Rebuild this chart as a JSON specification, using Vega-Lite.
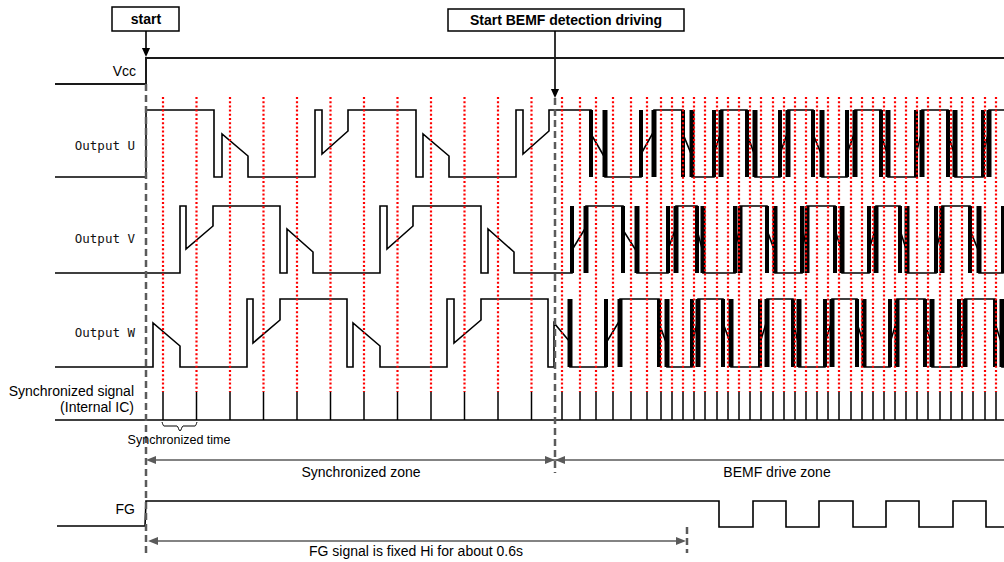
{
"$schema": "https://vega.github.io/schema/vega-lite/v6.json",
"width": 1004, "height": 562, "padding": 0, "autosize": {"type": "none"},
"background": "white",
"config": {"view": {"stroke": null}},
"datasets": {
"grid": [{"x":163},{"x":196.5},{"x":230},{"x":263.5},{"x":297},{"x":330.5},{"x":364},{"x":397.5},{"x":431},{"x":464.5},{"x":498},{"x":531.5},{"x":562},{"x":580},{"x":596},{"x":613},{"x":631},{"x":647},{"x":661},{"x":672},{"x":683},{"x":694},{"x":705},{"x":717},{"x":728},{"x":739},{"x":750},{"x":761},{"x":773},{"x":784},{"x":795},{"x":806},{"x":817},{"x":828},{"x":839},{"x":851},{"x":862},{"x":873},{"x":884},{"x":895},{"x":906},{"x":917},{"x":928},{"x":940},{"x":951},{"x":962},{"x":973},{"x":985},{"x":996}],
"levels": [{"s":"U","top":110,"bot":177},{"s":"V","top":206,"bot":273},{"s":"W","top":299,"bot":367}],
"bars": [
{"s":"U","k":"a","x":591},{"s":"U","k":"a","x":641},{"s":"U","k":"a","x":683},{"s":"U","k":"a","x":714},{"s":"U","k":"a","x":747},{"s":"U","k":"a","x":780},{"s":"U","k":"a","x":813},{"s":"U","k":"a","x":847},{"s":"U","k":"a","x":881},{"s":"U","k":"a","x":916},{"s":"U","k":"a","x":948},{"s":"U","k":"a","x":983},
{"s":"U","k":"b","x":605},{"s":"U","k":"b","x":654},{"s":"U","k":"b","x":692},{"s":"U","k":"b","x":721},{"s":"U","k":"b","x":755},{"s":"U","k":"b","x":788},{"s":"U","k":"b","x":822},{"s":"U","k":"b","x":855},{"s":"U","k":"b","x":888},{"s":"U","k":"b","x":922},{"s":"U","k":"b","x":955},{"s":"U","k":"b","x":989},
{"s":"V","k":"a","x":572},{"s":"V","k":"a","x":623},{"s":"V","k":"a","x":668},{"s":"V","k":"a","x":697},{"s":"V","k":"a","x":735},{"s":"V","k":"a","x":767},{"s":"V","k":"a","x":802},{"s":"V","k":"a","x":835},{"s":"V","k":"a","x":869},{"s":"V","k":"a","x":900},{"s":"V","k":"a","x":936},{"s":"V","k":"a","x":970},{"s":"V","k":"a","x":1003},
{"s":"V","k":"b","x":586},{"s":"V","k":"b","x":637},{"s":"V","k":"b","x":676},{"s":"V","k":"b","x":703},{"s":"V","k":"b","x":740},{"s":"V","k":"b","x":775},{"s":"V","k":"b","x":807},{"s":"V","k":"b","x":842},{"s":"V","k":"b","x":876},{"s":"V","k":"b","x":907},{"s":"V","k":"b","x":942},{"s":"V","k":"b","x":979},
{"s":"W","k":"a","x":606},{"s":"W","k":"a","x":659},{"s":"W","k":"a","x":692},{"s":"W","k":"a","x":723},{"s":"W","k":"a","x":760},{"s":"W","k":"a","x":793},{"s":"W","k":"a","x":825},{"s":"W","k":"a","x":857},{"s":"W","k":"a","x":890},{"s":"W","k":"a","x":925},{"s":"W","k":"a","x":959},{"s":"W","k":"a","x":995},
{"s":"W","k":"b","x":570},{"s":"W","k":"b","x":620},{"s":"W","k":"b","x":667},{"s":"W","k":"b","x":698},{"s":"W","k":"b","x":731},{"s":"W","k":"b","x":767},{"s":"W","k":"b","x":799},{"s":"W","k":"b","x":832},{"s":"W","k":"b","x":864},{"s":"W","k":"b","x":897},{"s":"W","k":"b","x":932},{"s":"W","k":"b","x":965},{"s":"W","k":"b","x":1002}
],
"wave": [
{"s":"U","i":1,"x":55,"y":177},{"s":"U","i":2,"x":146,"y":177},{"s":"U","i":3,"x":146,"y":110},{"s":"U","i":4,"x":214,"y":110},{"s":"U","i":5,"x":214,"y":177},{"s":"U","i":6,"x":222,"y":177},{"s":"U","i":7,"x":222,"y":134},{"s":"U","i":8,"x":248,"y":156},{"s":"U","i":9,"x":248,"y":177},{"s":"U","i":10,"x":315,"y":177},{"s":"U","i":11,"x":315,"y":110},{"s":"U","i":12,"x":322,"y":110},{"s":"U","i":13,"x":322,"y":154},{"s":"U","i":14,"x":348,"y":131},{"s":"U","i":15,"x":348,"y":110},{"s":"U","i":16,"x":416,"y":110},{"s":"U","i":17,"x":416,"y":177},{"s":"U","i":18,"x":423,"y":177},{"s":"U","i":19,"x":423,"y":134},{"s":"U","i":20,"x":449,"y":156},{"s":"U","i":21,"x":449,"y":177},{"s":"U","i":22,"x":516,"y":177},{"s":"U","i":23,"x":516,"y":110},{"s":"U","i":24,"x":523,"y":110},{"s":"U","i":25,"x":523,"y":154},{"s":"U","i":26,"x":549,"y":131},{"s":"U","i":27,"x":549,"y":110},
{"s":"U","i":28,"x":591,"y":110},{"s":"U","i":29,"x":591,"y":134},{"s":"U","i":30,"x":605,"y":158},{"s":"U","i":31,"x":605,"y":177},
{"s":"U","i":32,"x":641,"y":177},{"s":"U","i":33,"x":641,"y":154},{"s":"U","i":34,"x":654,"y":131},{"s":"U","i":35,"x":654,"y":110},
{"s":"U","i":36,"x":683,"y":110},{"s":"U","i":37,"x":683,"y":134},{"s":"U","i":38,"x":692,"y":156},{"s":"U","i":39,"x":692,"y":177},
{"s":"U","i":40,"x":714,"y":177},{"s":"U","i":41,"x":714,"y":154},{"s":"U","i":42,"x":721,"y":131},{"s":"U","i":43,"x":721,"y":110},
{"s":"U","i":44,"x":747,"y":110},{"s":"U","i":45,"x":747,"y":134},{"s":"U","i":46,"x":755,"y":156},{"s":"U","i":47,"x":755,"y":177},
{"s":"U","i":48,"x":780,"y":177},{"s":"U","i":49,"x":780,"y":154},{"s":"U","i":50,"x":788,"y":131},{"s":"U","i":51,"x":788,"y":110},
{"s":"U","i":52,"x":813,"y":110},{"s":"U","i":53,"x":813,"y":134},{"s":"U","i":54,"x":822,"y":156},{"s":"U","i":55,"x":822,"y":177},
{"s":"U","i":56,"x":847,"y":177},{"s":"U","i":57,"x":847,"y":154},{"s":"U","i":58,"x":855,"y":131},{"s":"U","i":59,"x":855,"y":110},
{"s":"U","i":60,"x":881,"y":110},{"s":"U","i":61,"x":881,"y":134},{"s":"U","i":62,"x":888,"y":156},{"s":"U","i":63,"x":888,"y":177},
{"s":"U","i":64,"x":916,"y":177},{"s":"U","i":65,"x":916,"y":154},{"s":"U","i":66,"x":922,"y":131},{"s":"U","i":67,"x":922,"y":110},
{"s":"U","i":68,"x":948,"y":110},{"s":"U","i":69,"x":948,"y":134},{"s":"U","i":70,"x":955,"y":156},{"s":"U","i":71,"x":955,"y":177},
{"s":"U","i":72,"x":983,"y":177},{"s":"U","i":73,"x":983,"y":154},{"s":"U","i":74,"x":989,"y":131},{"s":"U","i":75,"x":989,"y":110},
{"s":"U","i":76,"x":1004,"y":110},
{"s":"V","i":1,"x":55,"y":273},{"s":"V","i":2,"x":180,"y":273},{"s":"V","i":3,"x":180,"y":206},{"s":"V","i":4,"x":186,"y":206},{"s":"V","i":5,"x":186,"y":249},{"s":"V","i":6,"x":213,"y":226},{"s":"V","i":7,"x":213,"y":206},
{"s":"V","i":8,"x":280,"y":206},{"s":"V","i":9,"x":280,"y":273},{"s":"V","i":10,"x":287,"y":273},{"s":"V","i":11,"x":287,"y":229},{"s":"V","i":12,"x":313,"y":252},{"s":"V","i":13,"x":313,"y":273},
{"s":"V","i":14,"x":380,"y":273},{"s":"V","i":15,"x":380,"y":206},{"s":"V","i":16,"x":387,"y":206},{"s":"V","i":17,"x":387,"y":249},{"s":"V","i":18,"x":413,"y":226},{"s":"V","i":19,"x":413,"y":206},
{"s":"V","i":20,"x":481,"y":206},{"s":"V","i":21,"x":481,"y":273},{"s":"V","i":22,"x":488,"y":273},{"s":"V","i":23,"x":488,"y":229},{"s":"V","i":24,"x":514,"y":252},{"s":"V","i":25,"x":514,"y":273},
{"s":"V","i":26,"x":572,"y":273},{"s":"V","i":27,"x":572,"y":250},{"s":"V","i":28,"x":586,"y":227},{"s":"V","i":29,"x":586,"y":206},
{"s":"V","i":30,"x":623,"y":206},{"s":"V","i":31,"x":623,"y":230},{"s":"V","i":32,"x":637,"y":252},{"s":"V","i":33,"x":637,"y":273},
{"s":"V","i":34,"x":668,"y":273},{"s":"V","i":35,"x":668,"y":250},{"s":"V","i":36,"x":676,"y":227},{"s":"V","i":37,"x":676,"y":206},
{"s":"V","i":38,"x":697,"y":206},{"s":"V","i":39,"x":697,"y":230},{"s":"V","i":40,"x":703,"y":252},{"s":"V","i":41,"x":703,"y":273},
{"s":"V","i":42,"x":735,"y":273},{"s":"V","i":43,"x":735,"y":250},{"s":"V","i":44,"x":740,"y":227},{"s":"V","i":45,"x":740,"y":206},
{"s":"V","i":46,"x":767,"y":206},{"s":"V","i":47,"x":767,"y":230},{"s":"V","i":48,"x":775,"y":252},{"s":"V","i":49,"x":775,"y":273},
{"s":"V","i":50,"x":802,"y":273},{"s":"V","i":51,"x":802,"y":250},{"s":"V","i":52,"x":807,"y":227},{"s":"V","i":53,"x":807,"y":206},
{"s":"V","i":54,"x":835,"y":206},{"s":"V","i":55,"x":835,"y":230},{"s":"V","i":56,"x":842,"y":252},{"s":"V","i":57,"x":842,"y":273},
{"s":"V","i":58,"x":869,"y":273},{"s":"V","i":59,"x":869,"y":250},{"s":"V","i":60,"x":876,"y":227},{"s":"V","i":61,"x":876,"y":206},
{"s":"V","i":62,"x":900,"y":206},{"s":"V","i":63,"x":900,"y":230},{"s":"V","i":64,"x":907,"y":252},{"s":"V","i":65,"x":907,"y":273},
{"s":"V","i":66,"x":936,"y":273},{"s":"V","i":67,"x":936,"y":250},{"s":"V","i":68,"x":942,"y":227},{"s":"V","i":69,"x":942,"y":206},
{"s":"V","i":70,"x":970,"y":206},{"s":"V","i":71,"x":970,"y":230},{"s":"V","i":72,"x":979,"y":252},{"s":"V","i":73,"x":979,"y":273},
{"s":"V","i":74,"x":1003,"y":273},{"s":"V","i":75,"x":1003,"y":250},{"s":"V","i":76,"x":1004,"y":248},
{"s":"W","i":1,"x":55,"y":367},{"s":"W","i":2,"x":153,"y":367},{"s":"W","i":3,"x":153,"y":323},{"s":"W","i":4,"x":180,"y":346},{"s":"W","i":5,"x":180,"y":367},
{"s":"W","i":6,"x":247,"y":367},{"s":"W","i":7,"x":247,"y":299},{"s":"W","i":8,"x":253,"y":299},{"s":"W","i":9,"x":253,"y":343},{"s":"W","i":10,"x":280,"y":320},{"s":"W","i":11,"x":280,"y":299},
{"s":"W","i":12,"x":347,"y":299},{"s":"W","i":13,"x":347,"y":367},{"s":"W","i":14,"x":353,"y":367},{"s":"W","i":15,"x":353,"y":323},{"s":"W","i":16,"x":380,"y":346},{"s":"W","i":17,"x":380,"y":367},
{"s":"W","i":18,"x":447,"y":367},{"s":"W","i":19,"x":447,"y":299},{"s":"W","i":20,"x":454,"y":299},{"s":"W","i":21,"x":454,"y":343},{"s":"W","i":22,"x":481,"y":320},{"s":"W","i":23,"x":481,"y":299},
{"s":"W","i":24,"x":548,"y":299},{"s":"W","i":25,"x":548,"y":367},{"s":"W","i":26,"x":554,"y":367},{"s":"W","i":27,"x":554,"y":323},{"s":"W","i":28,"x":570,"y":342},{"s":"W","i":29,"x":570,"y":367},
{"s":"W","i":30,"x":606,"y":367},{"s":"W","i":31,"x":606,"y":343},{"s":"W","i":32,"x":620,"y":320},{"s":"W","i":33,"x":620,"y":299},
{"s":"W","i":34,"x":659,"y":299},{"s":"W","i":35,"x":659,"y":323},{"s":"W","i":36,"x":667,"y":345},{"s":"W","i":37,"x":667,"y":367},
{"s":"W","i":38,"x":692,"y":367},{"s":"W","i":39,"x":692,"y":343},{"s":"W","i":40,"x":698,"y":320},{"s":"W","i":41,"x":698,"y":299},
{"s":"W","i":42,"x":723,"y":299},{"s":"W","i":43,"x":723,"y":323},{"s":"W","i":44,"x":731,"y":345},{"s":"W","i":45,"x":731,"y":367},
{"s":"W","i":46,"x":760,"y":367},{"s":"W","i":47,"x":760,"y":343},{"s":"W","i":48,"x":767,"y":320},{"s":"W","i":49,"x":767,"y":299},
{"s":"W","i":50,"x":793,"y":299},{"s":"W","i":51,"x":793,"y":323},{"s":"W","i":52,"x":799,"y":345},{"s":"W","i":53,"x":799,"y":367},
{"s":"W","i":54,"x":825,"y":367},{"s":"W","i":55,"x":825,"y":343},{"s":"W","i":56,"x":832,"y":320},{"s":"W","i":57,"x":832,"y":299},
{"s":"W","i":58,"x":857,"y":299},{"s":"W","i":59,"x":857,"y":323},{"s":"W","i":60,"x":864,"y":345},{"s":"W","i":61,"x":864,"y":367},
{"s":"W","i":62,"x":890,"y":367},{"s":"W","i":63,"x":890,"y":343},{"s":"W","i":64,"x":897,"y":320},{"s":"W","i":65,"x":897,"y":299},
{"s":"W","i":66,"x":925,"y":299},{"s":"W","i":67,"x":925,"y":323},{"s":"W","i":68,"x":932,"y":345},{"s":"W","i":69,"x":932,"y":367},
{"s":"W","i":70,"x":959,"y":367},{"s":"W","i":71,"x":959,"y":343},{"s":"W","i":72,"x":965,"y":320},{"s":"W","i":73,"x":965,"y":299},
{"s":"W","i":74,"x":995,"y":299},{"s":"W","i":75,"x":995,"y":323},{"s":"W","i":76,"x":1002,"y":345},{"s":"W","i":77,"x":1002,"y":367},
{"s":"W","i":78,"x":1004,"y":367},
{"s":"Vcc","i":1,"x":55,"y":84},{"s":"Vcc","i":2,"x":146,"y":84},{"s":"Vcc","i":3,"x":146,"y":58},{"s":"Vcc","i":4,"x":1004,"y":58},
{"s":"FG","i":1,"x":57,"y":526},{"s":"FG","i":2,"x":145,"y":526},{"s":"FG","i":3,"x":146,"y":501},{"s":"FG","i":4,"x":719,"y":501},{"s":"FG","i":5,"x":719,"y":527},{"s":"FG","i":6,"x":753,"y":527},{"s":"FG","i":7,"x":753,"y":501},{"s":"FG","i":8,"x":786,"y":501},{"s":"FG","i":9,"x":786,"y":527},{"s":"FG","i":10,"x":819,"y":527},{"s":"FG","i":11,"x":819,"y":501},{"s":"FG","i":12,"x":853,"y":501},{"s":"FG","i":13,"x":853,"y":527},{"s":"FG","i":14,"x":886,"y":527},{"s":"FG","i":15,"x":886,"y":501},{"s":"FG","i":16,"x":919,"y":501},{"s":"FG","i":17,"x":919,"y":527},{"s":"FG","i":18,"x":953,"y":527},{"s":"FG","i":19,"x":953,"y":501},{"s":"FG","i":20,"x":986,"y":501},{"s":"FG","i":21,"x":986,"y":527},{"s":"FG","i":22,"x":1004,"y":527},
{"s":"base","i":1,"x":55,"y":420},{"s":"base","i":2,"x":1004,"y":420},
{"s":"arr1","i":1,"x":146,"y":31},{"s":"arr1","i":2,"x":146,"y":50},
{"s":"arr2","i":1,"x":555,"y":31},{"s":"arr2","i":2,"x":555,"y":91}
],
"brace": [{"i":1,"x":162,"y":422},{"i":2,"x":164,"y":426},{"i":3,"x":177,"y":426},{"i":4,"x":180,"y":431},{"i":5,"x":183,"y":426},{"i":6,"x":195,"y":426},{"i":7,"x":197,"y":422}],
"dash": [{"x":146,"y":84,"y2":555},{"x":555,"y":98,"y2":473},{"x":687,"y":527,"y2":553}],
"garr": [{"x":150,"x2":1004,"y":460},{"x":152,"x2":682,"y":541}],
"gheads": [{"x":146,"y":460,"d":"L"},{"x":555,"y":460,"d":"R"},{"x":555,"y":460,"d":"L"},{"x":148,"y":541,"d":"L"},{"x":686,"y":541,"d":"R"}],
"bheads": [{"x":146,"y":57},{"x":555,"y":98}],
"boxes": [{"x":112,"x2":179,"y":7,"y2":31},{"x":448,"x2":684,"y":9,"y2":31}],
"labels": [
{"t":"Vcc","x":136,"y":76,"k":"r"},{"t":"Synchronized signal","x":134,"y":396,"k":"r"},{"t":"(Internal IC)","x":134,"y":412,"k":"r"},{"t":"FG","x":135,"y":514,"k":"r"},
{"t":"Output U","x":135,"y":150,"k":"m"},{"t":"Output V","x":135,"y":243,"k":"m"},{"t":"Output W","x":135,"y":337,"k":"m"},
{"t":"Synchronized zone","x":361,"y":477,"k":"c"},{"t":"BEMF drive zone","x":777,"y":477,"k":"c"},{"t":"FG signal is fixed Hi for about 0.6s","x":416,"y":556,"k":"c"},
{"t":"Synchronized time","x":179,"y":444,"k":"s"},
{"t":"start","x":146,"y":24,"k":"b"},{"t":"Start BEMF detection driving","x":566,"y":25,"k":"b"}
]
},
"layer": [
{"data":{"name":"grid"},"mark":{"type":"rule","color":"#000000","strokeWidth":1.5},
 "encoding":{"x":{"field":"x","type":"quantitative","scale":{"domain":[0,1004],"nice":false,"zero":false},"axis":null},
 "y":{"datum":392,"type":"quantitative","scale":{"domain":[0,562],"nice":false,"zero":false,"reverse":true},"axis":null},"y2":{"datum":420}}},
{"data":{"name":"wave"},"transform":[{"filter":"datum.s!=='Vcc'"}],"mark":{"type":"line","color":"#000000","strokeWidth":1.6},
 "encoding":{"x":{"field":"x","type":"quantitative","scale":{"domain":[0,1004],"nice":false,"zero":false},"axis":null},
 "y":{"field":"y","type":"quantitative","scale":{"domain":[0,562],"nice":false,"zero":false,"reverse":true},"axis":null},
 "detail":{"field":"s"},"order":{"field":"i","type":"quantitative"}}},
{"data":{"name":"wave"},"transform":[{"filter":"datum.s==='Vcc'"}],"mark":{"type":"line","color":"#1a1a1a","strokeWidth":2},
 "encoding":{"x":{"field":"x","type":"quantitative","axis":null},"y":{"field":"y","type":"quantitative","axis":null},"order":{"field":"i","type":"quantitative"}}},
{"data":{"name":"brace"},"mark":{"type":"line","color":"#000000","strokeWidth":1,"interpolate":"monotone"},
 "encoding":{"x":{"field":"x","type":"quantitative","axis":null},"y":{"field":"y","type":"quantitative","axis":null},"order":{"field":"i","type":"quantitative"}}},
{"data":{"name":"bars"},"transform":[{"lookup":"s","from":{"data":{"name":"levels"},"key":"s","fields":["top","bot"]}},{"filter":"datum.k==='a'"}],
 "mark":{"type":"rule","color":"#000000","strokeWidth":4},
 "encoding":{"x":{"field":"x","type":"quantitative","axis":null},"y":{"field":"top","type":"quantitative","axis":null},"y2":{"field":"bot"}}},
{"data":{"name":"bars"},"transform":[{"lookup":"s","from":{"data":{"name":"levels"},"key":"s","fields":["top","bot"]}},{"filter":"datum.k==='b'"}],
 "mark":{"type":"rule","color":"#000000","strokeWidth":5},
 "encoding":{"x":{"field":"x","type":"quantitative","axis":null},"y":{"field":"top","type":"quantitative","axis":null},"y2":{"field":"bot"}}},
{"data":{"name":"grid"},"mark":{"type":"rule","color":"#ff0000","strokeWidth":2.2,"strokeDash":[2,2.2]},
 "encoding":{"x":{"field":"x","type":"quantitative","axis":null},"y":{"datum":97,"type":"quantitative","axis":null},"y2":{"datum":392}}},
{"data":{"name":"dash"},"mark":{"type":"rule","color":"#5a5a5a","strokeWidth":2.5,"strokeDash":[7,4]},
 "encoding":{"x":{"field":"x","type":"quantitative","axis":null},"y":{"field":"y","type":"quantitative","axis":null},"y2":{"field":"y2"}}},
{"data":{"name":"garr"},"mark":{"type":"rule","color":"#5a5a5a","strokeWidth":1.5},
 "encoding":{"x":{"field":"x","type":"quantitative","axis":null},"x2":{"field":"x2"},"y":{"field":"y","type":"quantitative","axis":null}}},
{"data":{"name":"gheads"},"mark":{"type":"point","filled":true,"color":"#5a5a5a","opacity":1,"size":100,"strokeWidth":0},
 "encoding":{"x":{"field":"x","type":"quantitative","axis":null},"y":{"field":"y","type":"quantitative","axis":null},
 "shape":{"field":"d","type":"nominal","legend":null,"scale":{"domain":["L","R"],"range":["M0,0L2,-0.8L2,0.8Z","M0,0L-2,-0.8L-2,0.8Z"]}}}},
{"data":{"name":"bheads"},"mark":{"type":"point","filled":true,"color":"#000000","opacity":1,"size":81,"strokeWidth":0,"shape":"M0,0L-0.9,-2L0.9,-2Z"},
 "encoding":{"x":{"field":"x","type":"quantitative","axis":null},"y":{"field":"y","type":"quantitative","axis":null}}},
{"data":{"name":"boxes"},"mark":{"type":"rect","fill":"#ffffff","stroke":"#000000","strokeWidth":1.5},
 "encoding":{"x":{"field":"x","type":"quantitative","axis":null},"x2":{"field":"x2"},"y":{"field":"y","type":"quantitative","axis":null},"y2":{"field":"y2"}}},
{"data":{"name":"labels"},"transform":[{"filter":"datum.k==='r'"}],"mark":{"type":"text","align":"right","baseline":"alphabetic","font":"Liberation Sans","fontSize":14,"color":"#000000"},
 "encoding":{"x":{"field":"x","type":"quantitative","axis":null},"y":{"field":"y","type":"quantitative","axis":null},"text":{"field":"t"}}},
{"data":{"name":"labels"},"transform":[{"filter":"datum.k==='m'"}],"mark":{"type":"text","align":"right","baseline":"alphabetic","font":"DejaVu Sans Mono","fontSize":12.5,"color":"#111111"},
 "encoding":{"x":{"field":"x","type":"quantitative","axis":null},"y":{"field":"y","type":"quantitative","axis":null},"text":{"field":"t"}}},
{"data":{"name":"labels"},"transform":[{"filter":"datum.k==='c'"}],"mark":{"type":"text","align":"center","baseline":"alphabetic","font":"Liberation Sans","fontSize":14,"color":"#000000"},
 "encoding":{"x":{"field":"x","type":"quantitative","axis":null},"y":{"field":"y","type":"quantitative","axis":null},"text":{"field":"t"}}},
{"data":{"name":"labels"},"transform":[{"filter":"datum.k==='s'"}],"mark":{"type":"text","align":"center","baseline":"alphabetic","font":"Liberation Sans","fontSize":12.5,"color":"#000000"},
 "encoding":{"x":{"field":"x","type":"quantitative","axis":null},"y":{"field":"y","type":"quantitative","axis":null},"text":{"field":"t"}}},
{"data":{"name":"labels"},"transform":[{"filter":"datum.k==='b'"}],"mark":{"type":"text","align":"center","baseline":"alphabetic","font":"Liberation Sans","fontSize":14,"fontWeight":"bold","color":"#000000"},
 "encoding":{"x":{"field":"x","type":"quantitative","axis":null},"y":{"field":"y","type":"quantitative","axis":null},"text":{"field":"t"}}}
]
}
